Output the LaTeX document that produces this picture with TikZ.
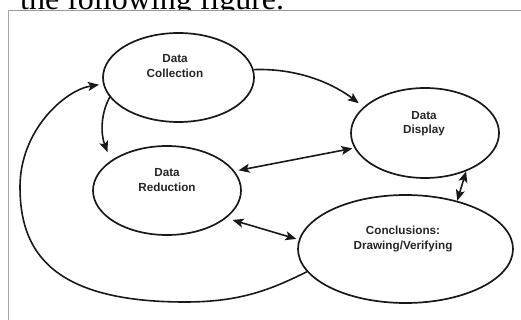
\documentclass[tikz,border=0pt]{standalone}
\usepackage{fontspec}
\setmainfont{Liberation Sans}
\newfontfamily\serifcap{Liberation Serif}
\usetikzlibrary{shapes.geometric,arrows.meta}
\begin{document}
\begin{tikzpicture}[x=1pt,y=-1pt,
  bub/.style={draw=black!90, line width=1.7pt, ellipse, inner sep=0pt},
  lbl/.style={font=\bfseries\fontsize{11.7}{14.5}\selectfont, align=center, inner sep=0pt, text=black!85},
  conn/.style={draw=black!90, line width=1.6pt, -{Stealth[length=11pt,width=9pt,inset=2.5pt]}},
  dconn/.style={draw=black!90, line width=1.6pt, {Stealth[length=11pt,width=9pt,inset=2.5pt]}-{Stealth[length=11pt,width=9pt,inset=2.5pt]}}]
\useasboundingbox (0,0) rectangle (521,320);
% caption text cut by the frame
\node[font=\serifcap\fontsize{32}{32}\selectfont, anchor=base west, inner sep=0pt] (cap) at (20,9.5) {the following figure.};
\fill[white] (8,10.5) rectangle (521,320);
\draw[black!40, line width=1.3pt] (8,10.5) -- (521,10.5);
\draw[black!35, line width=1pt] (8,10.5) -- (8,320);
% ellipses
\node[bub, minimum width=151pt, minimum height=89pt] (dc) at (178.5,77.5) {};
\node[bub, minimum width=148pt, minimum height=89pt] (dr) at (167,190.5) {};
\node[bub, minimum width=148pt, minimum height=90pt] (dd) at (425,133) {};
\node[bub, minimum width=215pt, minimum height=108pt] (cd) at (405.5,249) {};
% labels
\node[lbl] (dct) at (175,66) {Data\\Collection};
\node[lbl] (drt) at (167,180) {Data\\Reduction};
\node[lbl] (ddt) at (424,123.5) {Data\\Display};
\node[lbl] (cdt) at (403,239) {Conclusions:\\Drawing/Verifying};
% connectors
\draw[conn, shorten >=6pt] (dc.6) .. controls (300,68) and (335,85) .. (dd.157);
\draw[conn, shorten >=9pt] (dc.196) .. controls (100,115) and (101,135) .. (dr.152);
\draw[dconn, shorten <=4pt, shorten >=2pt] (dr.16) -- (dd.192);
\draw[dconn, shorten <=6.5pt, shorten >=2.5pt] (dr.335.6) -- (cd.175.3);
\draw[dconn] (dd.317) -- (cd.43.6);
\draw[conn, shorten >=4pt] (cd.193) .. controls (270,290) and (240,302) .. (185,302)
  .. controls (50,302) and (20,250) .. (20,187)
  .. controls (20,130) and (65,90) .. (dc.185);
\end{tikzpicture}
\end{document}
